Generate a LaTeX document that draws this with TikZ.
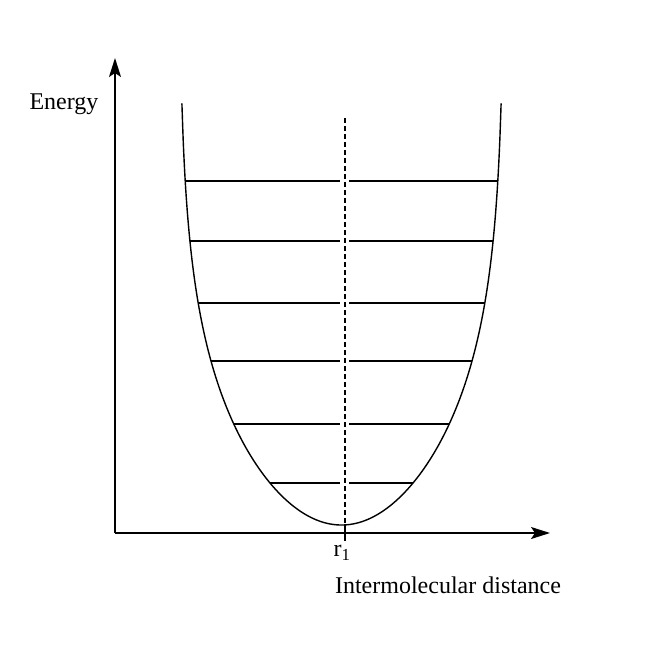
\documentclass[tikz,border=0pt]{standalone}
\usepackage{fontspec}
\setmainfont{Liberation Serif}
\usetikzlibrary{arrows.meta}
\begin{document}
\begin{tikzpicture}[x=1pt,y=-1pt,
  axis/.style={line width=1.5pt,-{Stealth[length=19pt,width=12pt,inset=4pt]}},
  curve/.style={line width=1.4pt},
  level/.style={line width=1.5pt},
  guide/.style={line width=1.5pt,dash pattern=on 5pt off 3pt},
  lbl/.style={inner sep=0pt,font=\fontsize{24}{28}\selectfont}]
\useasboundingbox (0,0) rectangle (664,668);
\coordinate (O) at (115,533);
\coordinate (Ytip) at (115,58);
\coordinate (Xtip) at (550,533);
\draw[axis] (O) -- (Ytip);
\draw[axis] (O) -- (Xtip);
% potential curve: w^2 = 26500 tanh(d/215), centred at x=341.5, bottom at y=525
\draw[curve] plot[smooth,domain=-159.6:159.6,samples=241,variable=\w]
  ({341.5+\w},{525-107.5*ln((1+(\w/100)*(\w/100)/2.65)/(1-(\w/100)*(\w/100)/2.65))});
% levels
\foreach \y in {181,241,303,361,424,483}{
  \pgfmathsetmacro\hw{10*sqrt(265*tanh((525-\y)/215))}
  \coordinate (L\y) at ({341.5-\hw},\y);
  \coordinate (Lm\y) at (340,\y);
  \coordinate (Rm\y) at (349,\y);
  \coordinate (R\y) at ({341.5+\hw},\y);
  \draw[level] (L\y) -- (Lm\y);
  \draw[level] (Rm\y) -- (R\y);
}
\coordinate (Dtop) at (345,118);
\coordinate (Dbot) at (345,524);
\coordinate (Tick) at (345,541);
\draw[guide] (Dtop) -- (Dbot);
\draw[level] (Dbot) -- (Tick);
\node[lbl] (r1) at (342,553) {r\textsubscript{1}};
\node[lbl] (xl) at (448,585) {Intermolecular distance};
\node[lbl] (yl) at (64,104) {Energy};
\end{tikzpicture}
\end{document}
